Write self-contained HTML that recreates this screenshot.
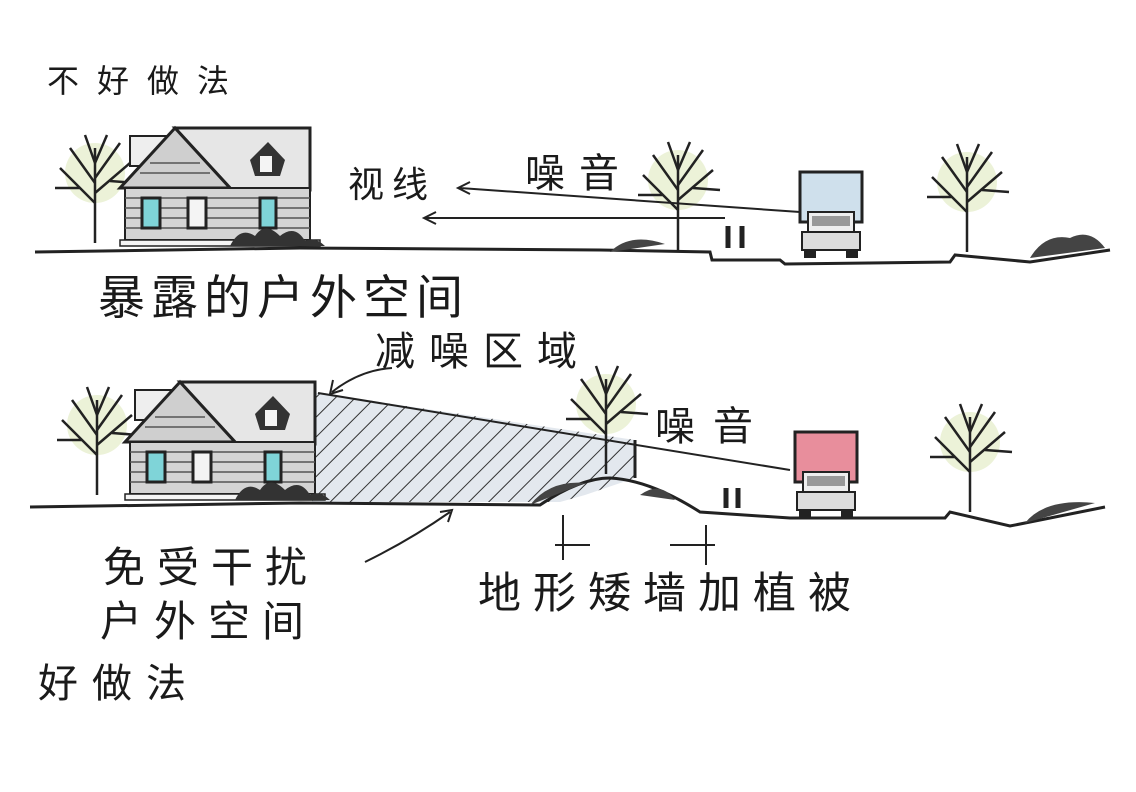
<!DOCTYPE html>
<html><head><meta charset="utf-8"><style>
body{margin:0;background:#fff;}
svg{display:block}
text{font-family:"Liberation Sans","WenQuanYi Zen Hei","Noto Sans CJK SC",sans-serif;fill:#1a1a1a}
</style></head><body>
<svg width="1136" height="792" viewBox="0 0 1136 792">
<defs>
<pattern id="hatch" width="14" height="14" patternUnits="userSpaceOnUse" patternTransform="rotate(45)">
<rect width="14" height="14" fill="#e3e8ee"/>
<line x1="0" y1="0" x2="0" y2="14" stroke="#333" stroke-width="2"/>
</pattern>
<g id="house">
<rect x="10" y="8" width="40" height="30" fill="#eee" stroke="#222" stroke-width="2"/>
<polygon points="55,0 190,0 190,62 112,62" fill="#e6e6e6" stroke="#222" stroke-width="3"/>
<polygon points="55,0 0,60 110,60" fill="#cfcfcf" stroke="#222" stroke-width="3"/>
<rect x="5" y="60" width="185" height="52" fill="#d4d4d4" stroke="#222" stroke-width="2"/>
<g stroke="#555" stroke-width="1.5">
<line x1="5" y1="70" x2="190" y2="70"/><line x1="5" y1="80" x2="190" y2="80"/><line x1="5" y1="90" x2="190" y2="90"/><line x1="5" y1="100" x2="190" y2="100"/>
<line x1="30" y1="35" x2="80" y2="35"/><line x1="20" y1="45" x2="90" y2="45"/></g>
<rect x="22" y="70" width="18" height="30" fill="#7fd4d8" stroke="#222" stroke-width="3"/>
<rect x="68" y="70" width="18" height="30" fill="#f4f4f4" stroke="#222" stroke-width="3"/>
<rect x="140" y="70" width="16" height="30" fill="#7fd4d8" stroke="#222" stroke-width="3"/>
<polygon points="130,32 148,14 165,32 160,48 135,48" fill="#333"/>
<rect x="140" y="28" width="12" height="16" fill="#f4f4f4"/>
<rect x="0" y="112" width="200" height="6" fill="#f4f4f4" stroke="#222" stroke-width="1.5"/>
<path d="M110,118 q10,-20 25,-10 q10,-15 25,0 q15,-12 25,5 q10,-5 20,5z" fill="#333"/>
</g>
<g id="tree" stroke="#222" stroke-width="2.5" fill="none">
<circle cx="0" cy="-70" r="30" fill="#e4ecc8" stroke="none" opacity="0.7"/>
<line x1="0" y1="0" x2="0" y2="-95"/>
<path d="M0,-40 L-35,-75 M0,-50 L35,-80 M0,-60 L-25,-95 M0,-65 L25,-100 M-15,-55 L-40,-55 M15,-62 L42,-60 M0,-80 L-10,-108 M0,-80 L12,-108"/>
</g>
<g id="truck">
<rect x="0" y="0" width="62" height="50" stroke="#222" stroke-width="3"/>
<rect x="8" y="40" width="46" height="20" fill="#eee" stroke="#222" stroke-width="2"/>
<rect x="12" y="44" width="38" height="10" fill="#999"/>
<rect x="2" y="60" width="58" height="18" fill="#ddd" stroke="#222" stroke-width="2"/>
<rect x="4" y="78" width="12" height="8" fill="#222"/><rect x="46" y="78" width="12" height="8" fill="#222"/>
</g>
</defs>

<!-- TOP -->
<text x="47" y="92" font-size="32" letter-spacing="18">不好做法</text>
<use href="#tree" x="95" y="243"/>
<use href="#house" x="120" y="128"/>
<use href="#tree" x="678" y="250"/>
<use href="#tree" x="967" y="252"/>
<use href="#truck" x="800" y="172" fill="#cfe0ec"/>
<path d="M35,252 L300,248 L600,250 L710,252 L712,260 L780,260 L785,264 L950,262 L955,255 L1030,262 L1110,250" fill="none" stroke="#222" stroke-width="3"/>
<path d="M1030,258 q15,-25 40,-20 q20,-10 35,10z M610,252 q20,-20 55,-8z" fill="#444"/>
<path d="M728,248 v-22 M742,248 v-22" stroke="#222" stroke-width="5"/>
<text x="348" y="197" font-size="36" letter-spacing="8">视线</text>
<text x="525" y="187" font-size="40" letter-spacing="14">噪音</text>
<path d="M800,212 L460,188 M470,182 L458,188 L470,194 M725,218 L425,218 M436,212 L424,218 L436,224" fill="none" stroke="#222" stroke-width="2"/>
<text x="98" y="314" font-size="47" letter-spacing="6">暴露的户外空间</text>

<!-- BOTTOM -->
<text x="375" y="365" font-size="40" letter-spacing="14">减噪区域</text>
<path d="M392,368 Q360,370 332,392 M333,380 L330,394 L343,390" fill="none" stroke="#222" stroke-width="2"/>
<polygon points="312,392 635,440 635,478 585,495 560,502 312,502" fill="url(#hatch)"/>
<line x1="635" y1="440" x2="635" y2="478" stroke="#222" stroke-width="3"/>
<line x1="318" y1="393" x2="790" y2="470" stroke="#222" stroke-width="2"/>
<use href="#tree" x="55" y="0" transform="translate(42,495)"/>
<use href="#house" x="125" y="382"/>
<use href="#tree" x="606" y="474"/>
<use href="#tree" x="970" y="512"/>
<use href="#truck" x="795" y="432" fill="#e88e9c"/>
<path d="M30,507 L300,503 L540,505 Q580,478 610,478 Q650,480 700,512 L790,518 L945,518 L950,512 L1010,526 L1105,507" fill="none" stroke="#222" stroke-width="3"/>
<path d="M530,505 q20,-25 55,-22z M640,495 q20,-15 35,5z M1025,523 q20,-25 70,-20z" fill="#444"/>
<path d="M726,508 v-20 M738,508 v-20" stroke="#222" stroke-width="5"/>
<text x="655" y="440" font-size="40" letter-spacing="18">噪音</text>
<path d="M365,562 Q410,540 450,512 M440,512 L452,510 L448,522" fill="none" stroke="#222" stroke-width="2"/>
<path d="M563,515 V560 M706,525 V565 M555,545 H590 M670,545 H715" stroke="#222" stroke-width="2"/>
<text x="103" y="582" font-size="42" letter-spacing="12">免受干扰</text>
<text x="100" y="636" font-size="42" letter-spacing="12">户外空间</text>
<text x="38" y="697" font-size="40" letter-spacing="14">好做法</text>
<text x="478" y="608" font-size="43" letter-spacing="12">地形矮墙加植被</text>
</svg>
</body></html>
